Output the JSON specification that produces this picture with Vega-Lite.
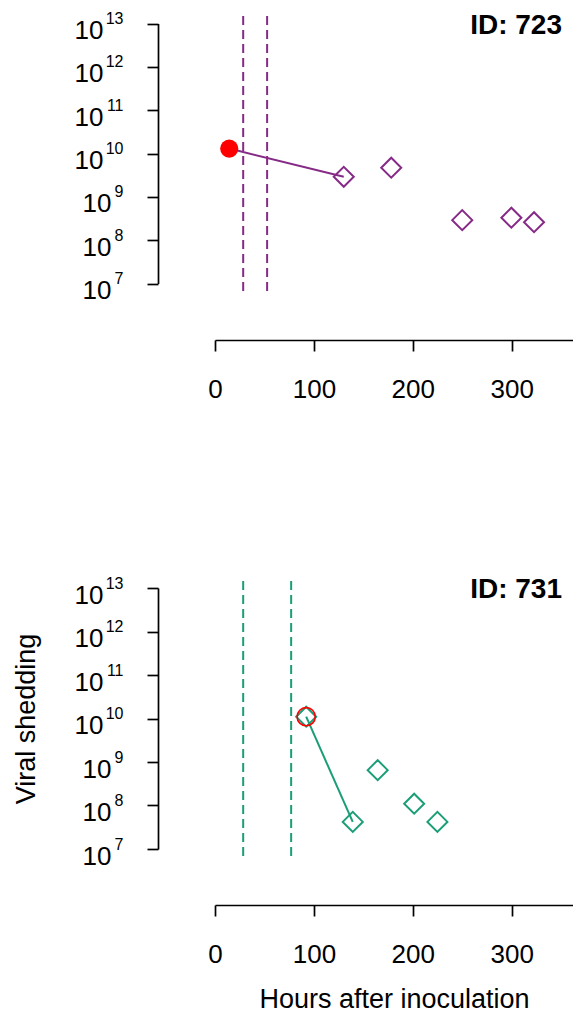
{
  "$schema": "https://vega.github.io/schema/vega-lite/v6.json",
  "padding": {"left": 12, "top": 10, "right": 0, "bottom": 0},
  "spacing": 173,
  "config": {
    "view": {"stroke": null},
    "font": "Liberation Sans",
    "axis": {
      "domainColor": "black", "tickColor": "black", "labelColor": "black", "titleColor": "black",
      "domainWidth": 1.7, "tickWidth": 1.7, "tickSize": 11, "grid": false, "labelFlush": false,
      "labelFont": "Liberation Sans", "titleFont": "Liberation Sans",
      "labelFontSize": 26, "titleFontSize": 27, "titleFontWeight": "normal"
    },
    "title": {"font": "Liberation Sans", "color": "black"}
  },
  "datasets": {
    "win": [
      {"id": 723, "hours": 28.5}, {"id": 723, "hours": 52.7},
      {"id": 731, "hours": 28.5}, {"id": 731, "hours": 77}
    ],
    "obs": [
      {"id": 723, "hours": 130.2, "shedding": 2.9e9},
      {"id": 723, "hours": 178.2, "shedding": 4.7e9},
      {"id": 723, "hours": 250, "shedding": 2.9e8},
      {"id": 723, "hours": 299.7, "shedding": 3.3e8},
      {"id": 723, "hours": 322.6, "shedding": 2.6e8},
      {"id": 731, "hours": 92.2, "shedding": 1.1e10},
      {"id": 731, "hours": 139.3, "shedding": 4.2e7},
      {"id": 731, "hours": 164.5, "shedding": 6.5e8},
      {"id": 731, "hours": 201.4, "shedding": 1.1e8},
      {"id": 731, "hours": 224.9, "shedding": 4.2e7}
    ],
    "seg": [
      {"id": 723, "hours": 14.4, "shedding": 1.3e10},
      {"id": 723, "hours": 130.2, "shedding": 2.9e9},
      {"id": 731, "hours": 92.2, "shedding": 1.1e10},
      {"id": 731, "hours": 139.3, "shedding": 4.2e7}
    ],
    "onset": [
      {"id": 723, "hours": 14.4, "shedding": 1.3e10},
      {"id": 731, "hours": 92.2, "shedding": 1.1e10}
    ]
  },
  "vconcat": [
    {
      "width": 358, "height": 279,
      "title": {"text": "ID: 723", "anchor": "end", "frame": "group", "fontSize": 28, "fontWeight": "bold", "offset": -29, "dx": -11},
      "resolve": {"axis": {"y": "independent"}},
      "layer": [
        {
          "data": {"name": "win"},
          "transform": [{"filter": "datum.id == 723"}],
          "mark": {"type": "rule", "strokeDash": [9, 5], "strokeWidth": 2, "color": "#862A87"},
          "encoding": {
            "x": {"field": "hours", "type": "quantitative",
              "scale": {"domain": [0, 362], "nice": false, "zero": false},
              "axis": {"values": [0, 100, 200, 300], "offset": 45, "labelPadding": 25, "title": null}}
          }
        },
        {
          "data": {"name": "seg"},
          "transform": [{"filter": "datum.id == 723"}],
          "mark": {"type": "line", "strokeWidth": 2, "color": "#862A87"},
          "encoding": {
            "x": {"field": "hours", "type": "quantitative"},
            "y": {"field": "shedding", "type": "quantitative",
              "scale": {"type": "log", "domain": [1e7, 1e13], "range": [267.5, 7.5], "nice": false},
              "axis": {"values": [1e7, 1e8, 1e9, 1e10, 1e11, 1e12, 1e13], "offset": 57, "title": null,
                "labelBaseline": "alphabetic", "labelOffset": 15,
                "labelPadding": {"condition": {"test": "datum.value < 5e9", "value": 36}, "value": 44},
                "labelExpr": "'10'"}}
          }
        },
        {
          "data": {"name": "obs"},
          "transform": [{"filter": "datum.id == 723"}],
          "mark": {"type": "point", "shape": "diamond", "filled": false, "size": 400, "strokeWidth": 2, "color": "#862A87", "opacity": 1},
          "encoding": {
            "x": {"field": "hours", "type": "quantitative"},
            "y": {"field": "shedding", "type": "quantitative",
              "axis": {"values": [1e7, 1e8, 1e9, 1e10, 1e11, 1e12, 1e13], "offset": 57, "title": null, "orient": "left",
                "domain": false, "ticks": false, "tickSize": 0, "labelFontSize": 16, "labelPadding": 35,
                "labelBaseline": "alphabetic", "labelOffset": 0,
                "labelExpr": "format(log(datum.value) / LN10, '.0f')"}}
          }
        },
        {
          "data": {"name": "onset"},
          "transform": [{"filter": "datum.id == 723"}],
          "mark": {"type": "point", "shape": "circle", "filled": true, "size": 330, "color": "#FF0000", "opacity": 1},
          "encoding": {
            "x": {"field": "hours", "type": "quantitative"},
            "y": {"field": "shedding", "type": "quantitative", "axis": null}
          }
        }
      ]
    },
    {
      "width": 358, "height": 279,
      "title": {"text": "ID: 731", "anchor": "end", "frame": "group", "fontSize": 28, "fontWeight": "bold", "offset": -29, "dx": -11},
      "resolve": {"axis": {"y": "independent"}},
      "layer": [
        {
          "data": {"name": "win"},
          "transform": [{"filter": "datum.id == 731"}],
          "mark": {"type": "rule", "strokeDash": [9, 5], "strokeWidth": 2, "color": "#1B9E77"},
          "encoding": {
            "x": {"field": "hours", "type": "quantitative",
              "scale": {"domain": [0, 362], "nice": false, "zero": false},
              "axis": {"values": [0, 100, 200, 300], "offset": 45, "labelPadding": 25, "title": "Hours after inoculation", "titlePadding": 19}}
          }
        },
        {
          "data": {"name": "seg"},
          "transform": [{"filter": "datum.id == 731"}],
          "mark": {"type": "line", "strokeWidth": 2, "color": "#1B9E77"},
          "encoding": {
            "x": {"field": "hours", "type": "quantitative"},
            "y": {"field": "shedding", "type": "quantitative",
              "scale": {"type": "log", "domain": [1e7, 1e13], "range": [268, 7], "nice": false},
              "axis": {"values": [1e7, 1e8, 1e9, 1e10, 1e11, 1e12, 1e13], "offset": 57, "title": "Viral shedding", "titlePadding": 34,
                "labelBaseline": "alphabetic", "labelOffset": 15,
                "labelPadding": {"condition": {"test": "datum.value < 5e9", "value": 36}, "value": 44},
                "labelExpr": "'10'"}}
          }
        },
        {
          "data": {"name": "obs"},
          "transform": [{"filter": "datum.id == 731"}],
          "mark": {"type": "point", "shape": "diamond", "filled": false, "size": 400, "strokeWidth": 2, "color": "#1B9E77", "opacity": 1},
          "encoding": {
            "x": {"field": "hours", "type": "quantitative"},
            "y": {"field": "shedding", "type": "quantitative",
              "axis": {"values": [1e7, 1e8, 1e9, 1e10, 1e11, 1e12, 1e13], "offset": 57, "title": null, "orient": "left",
                "domain": false, "ticks": false, "tickSize": 0, "labelFontSize": 16, "labelPadding": 35,
                "labelBaseline": "alphabetic", "labelOffset": 0,
                "labelExpr": "format(log(datum.value) / LN10, '.0f')"}}
          }
        },
        {
          "data": {"name": "onset"},
          "transform": [{"filter": "datum.id == 731"}],
          "mark": {"type": "point", "shape": "circle", "filled": false, "size": 330, "strokeWidth": 1.6, "color": "#FF0000", "opacity": 1},
          "encoding": {
            "x": {"field": "hours", "type": "quantitative"},
            "y": {"field": "shedding", "type": "quantitative", "axis": null}
          }
        }
      ]
    }
  ]
}
